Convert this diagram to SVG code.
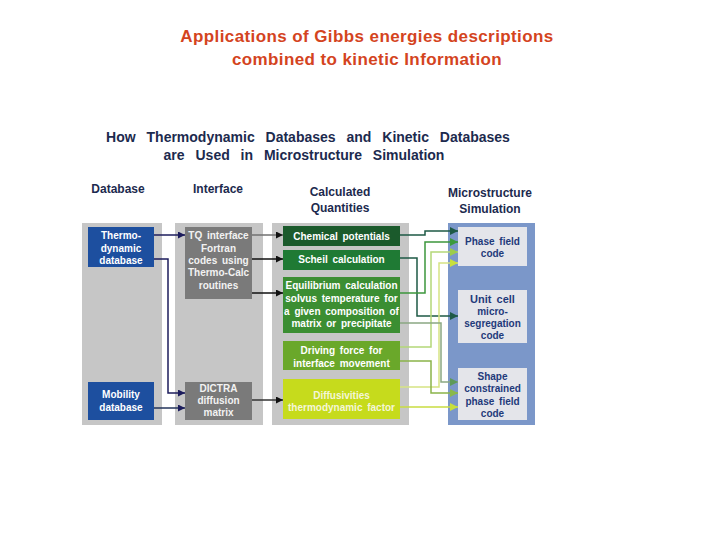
<svg xmlns="http://www.w3.org/2000/svg" width="720" height="540" viewBox="0 0 720 540">
<style>
text{font-family:"Liberation Sans",Arial,sans-serif;font-weight:bold;text-anchor:middle}
.title{font-size:17px;fill:#d4441e;letter-spacing:0.4px}
.head{font-size:14px;fill:#1c2a4e;word-spacing:7px}
.col{font-size:12px;fill:#1c2a4e}
.bt{font-size:10px;fill:#ffffff;word-spacing:2px}
.gt{font-size:10px;fill:#f2f2f2;word-spacing:2px}
.lt{font-size:10px;fill:#1f3a7a;word-spacing:2px}
.c{fill:none;stroke-width:1.5}
</style>
<defs>
<marker id="aNavy" markerWidth="7" markerHeight="7" refX="7" refY="3.5" orient="auto" markerUnits="userSpaceOnUse"><path d="M0,0L7,3.5L0,7z" fill="#1c1c5c"/></marker>
<marker id="aBlack" markerWidth="7" markerHeight="7" refX="7" refY="3.5" orient="auto" markerUnits="userSpaceOnUse"><path d="M0,0L7,3.5L0,7z" fill="#111111"/></marker>
<marker id="aTeal" markerWidth="8" markerHeight="8" refX="8" refY="4" orient="auto" markerUnits="userSpaceOnUse"><path d="M0,0L8,4L0,8z" fill="#1e5a46"/></marker>
<marker id="aGreen" markerWidth="8" markerHeight="8" refX="8" refY="4" orient="auto" markerUnits="userSpaceOnUse"><path d="M0,0L8,4L0,8z" fill="#3c9a3c"/></marker>
<marker id="aLight" markerWidth="8" markerHeight="8" refX="8" refY="4" orient="auto" markerUnits="userSpaceOnUse"><path d="M0,0L8,4L0,8z" fill="#9ccc4a"/></marker>
<marker id="aYel" markerWidth="8" markerHeight="8" refX="8" refY="4" orient="auto" markerUnits="userSpaceOnUse"><path d="M0,0L8,4L0,8z" fill="#c8e03c"/></marker>
<marker id="aGrey" markerWidth="8" markerHeight="8" refX="8" refY="4" orient="auto" markerUnits="userSpaceOnUse"><path d="M0,0L8,4L0,8z" fill="#5e9a58"/></marker>
<marker id="aOlive" markerWidth="8" markerHeight="8" refX="8" refY="4" orient="auto" markerUnits="userSpaceOnUse"><path d="M0,0L8,4L0,8z" fill="#8ab84a"/></marker>
</defs>
<rect width="720" height="540" fill="#ffffff"/>
<text class="title" x="367" y="42">Applications of Gibbs energies descriptions</text>
<text class="title" x="367" y="65">combined to kinetic Information</text>
<text class="head" x="308" y="142">How Thermodynamic Databases and Kinetic Databases</text>
<text class="head" x="304" y="160">are Used in Microstructure Simulation</text>
<text class="col" x="118" y="193">Database</text>
<text class="col" x="218" y="193">Interface</text>
<text class="col" x="340" y="196">Calculated</text>
<text class="col" x="340" y="212">Quantities</text>
<text class="col" x="490" y="197">Microstructure</text>
<text class="col" x="490" y="213">Simulation</text>
<g id="columns">
<rect x="82" y="223" width="80" height="202" fill="#c6c6c6"/>
<rect x="175" y="223" width="88" height="202" fill="#c6c6c6"/>
<rect x="272" y="223" width="137" height="202" fill="#c6c6c6"/>
<rect x="448" y="223" width="87" height="202" fill="#7b97c9"/>
</g>
<g id="thermo-db"><rect x="88" y="227" width="66" height="40" fill="#1d4f9f"/>
<text class="bt" x="121" y="239">Thermo-</text><text class="bt" x="121" y="252">dynamic</text><text class="bt" x="121" y="264">database</text></g>
<g id="mobility-db"><rect x="88" y="382" width="66" height="38" fill="#1d4f9f"/>
<text class="bt" x="121" y="398">Mobility</text><text class="bt" x="121" y="411">database</text></g>
<g id="tq"><rect x="185" y="227" width="67" height="72" fill="#7a7a7a"/>
<text class="gt" x="218.500" y="239">TQ interface</text><text class="gt" x="218.500" y="252">Fortran</text><text class="gt" x="218.500" y="264">codes using</text><text class="gt" x="218.500" y="276">Thermo-Calc</text><text class="gt" x="218.500" y="289">routines</text></g>
<g id="dictra"><rect x="185" y="382" width="67" height="38" fill="#7a7a7a"/>
<text class="gt" x="218.500" y="392">DICTRA</text><text class="gt" x="218.500" y="404">diffusion</text><text class="gt" x="218.500" y="416">matrix</text></g>
<g id="chem"><rect x="283" y="226" width="117" height="20" fill="#1b5a2c"/>
<text class="bt" x="341.500" y="240">Chemical potentials</text></g>
<g id="scheil"><rect x="283" y="250" width="117" height="20" fill="#1f7a34"/>
<text class="bt" x="341.500" y="263">Scheil calculation</text></g>
<g id="equil"><rect x="283" y="277" width="117" height="56" fill="#3b8e32"/>
<text class="bt" x="341.500" y="289">Equilibrium calculation</text><text class="bt" x="341.500" y="302">solvus temperature for</text><text class="bt" x="341.500" y="315">a given composition of</text><text class="bt" x="341.500" y="327">matrix or precipitate</text></g>
<g id="driving"><rect x="283" y="341" width="117" height="29" fill="#6aa82a"/>
<text class="bt" x="341.500" y="354">Driving force for</text><text class="bt" x="341.500" y="367">interface movement</text></g>
<g id="diff"><rect x="283" y="379" width="117" height="40" fill="#c6db1c"/>
<text class="bt" x="341.500" y="399" style="fill:#f4f6d8">Diffusivities</text><text class="bt" x="341.500" y="411" style="fill:#f4f6d8">thermodynamic factor</text></g>
<g id="phase"><rect x="458" y="227" width="69" height="39" fill="#e4e5ea"/>
<text class="lt" x="492.500" y="245">Phase field</text><text class="lt" x="492.500" y="257">code</text></g>
<g id="unitcell"><rect x="458" y="290" width="69" height="53" fill="#e4e5ea"/>
<text class="lt" x="492.500" y="303" style="font-size:11px">Unit cell</text><text class="lt" x="492.500" y="315">micro-</text><text class="lt" x="492.500" y="327">segregation</text><text class="lt" x="492.500" y="339">code</text></g>
<g id="shape"><rect x="458" y="368" width="69" height="52" fill="#e4e5ea"/>
<text class="lt" x="492.500" y="380">Shape</text><text class="lt" x="492.500" y="392">constrained</text><text class="lt" x="492.500" y="405">phase field</text><text class="lt" x="492.500" y="417">code</text></g>
<g id="connectors">
<path class="c" d="M154,235H185" stroke="#1c1c5c" marker-end="url(#aNavy)"/>
<path class="c" d="M154,259H168V393H185" stroke="#1c1c5c" marker-end="url(#aNavy)"/>
<path class="c" d="M154,408H185" stroke="#22335a" marker-end="url(#aNavy)"/>
<path class="c" d="M252,235H283" stroke="#707070" stroke-width="1" marker-end="url(#aBlack)"/>
<path class="c" d="M252,259H283" stroke="#111111" marker-end="url(#aBlack)"/>
<path class="c" d="M252,293H283" stroke="#111111" marker-end="url(#aBlack)"/>
<path class="c" d="M252,400H283" stroke="#333333" marker-end="url(#aBlack)"/>
<path class="c" d="M400,235H425V231H458" stroke="#1e5a46" marker-end="url(#aTeal)"/>
<path class="c" d="M400,258H417V316H458" stroke="#1e5a46" marker-end="url(#aTeal)"/>
<path class="c" d="M400,293H425V242H458" stroke="#3c963c" marker-end="url(#aGreen)"/>
<path class="c" d="M400,347H431V252H458" stroke="#b4d878" marker-end="url(#aLight)"/>
<path class="c" d="M400,387H439V263H458" stroke="#d6e484" marker-end="url(#aYel)"/>
<path class="c" d="M400,323H441V382H458" stroke="#8aa882" marker-end="url(#aGrey)"/>
<path class="c" d="M400,361H431V393H458" stroke="#8ab44a" marker-end="url(#aOlive)"/>
<path class="c" d="M400,407H458" stroke="#c8dc40" stroke-width="2" marker-end="url(#aYel)"/>
</g>
</svg>
